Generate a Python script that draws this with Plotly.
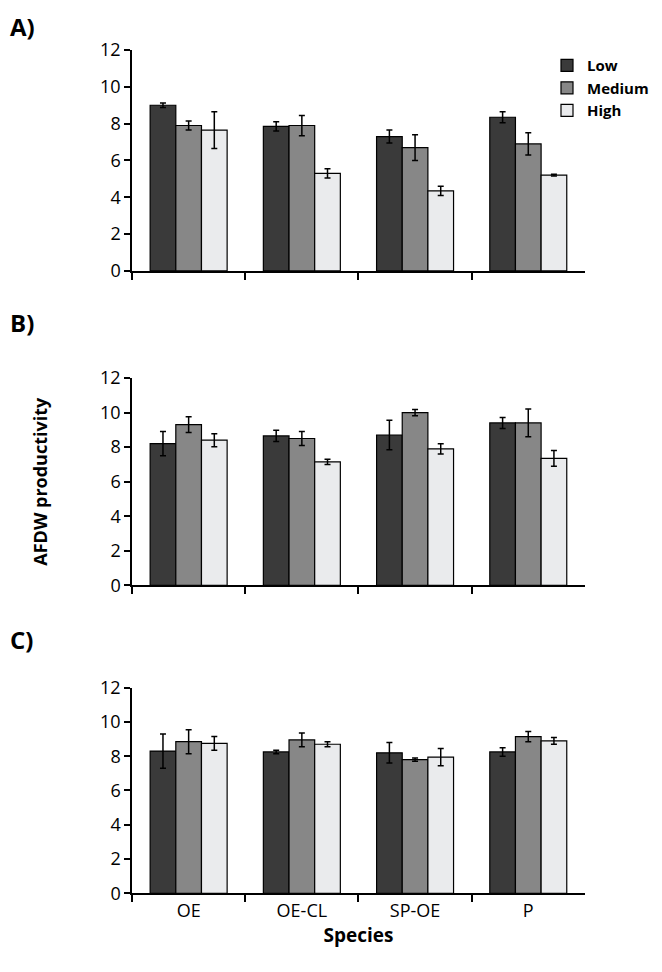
import plotly.graph_objects as go
from plotly.subplots import make_subplots

SPECIES = ["OE", "OE-CL", "SP-OE", "P"]
LEVELS = ["Low", "Medium", "High"]

# panel A
a_low = [9.0, 7.85, 7.3, 8.35]
a_low_err = [0.12, 0.25, 0.35, 0.3]
a_med = [7.9, 7.9, 6.7, 6.9]
a_med_err = [0.25, 0.55, 0.7, 0.6]
a_high = [7.65, 5.3, 4.35, 5.2]
a_high_err = [1.0, 0.25, 0.25, 0.05]

# panel B
b_low = [8.2, 8.65, 8.7, 9.4]
b_low_err = [0.7, 0.32, 0.85, 0.32]
b_med = [9.3, 8.5, 10.0, 9.4]
b_med_err = [0.45, 0.4, 0.18, 0.8]
b_high = [8.4, 7.15, 7.9, 7.35]
b_high_err = [0.38, 0.15, 0.3, 0.45]

# panel C
c_low = [8.3, 8.25, 8.2, 8.25]
c_low_err = [1.0, 0.1, 0.6, 0.25]
c_med = [8.85, 8.95, 7.8, 9.15]
c_med_err = [0.7, 0.4, 0.1, 0.3]
c_high = [8.75, 8.7, 7.95, 8.9]
c_high_err = [0.4, 0.15, 0.5, 0.2]

Y_TICKS = [0, 2, 4, 6, 8, 10, 12]
COLORS = ["#3a3a3a", "#878787", "#eaebed"]
FONT = "Open Sans"

panels = [
    [(a_low, a_low_err), (a_med, a_med_err), (a_high, a_high_err)],
    [(b_low, b_low_err), (b_med, b_med_err), (b_high, b_high_err)],
    [(c_low, c_low_err), (c_med, c_med_err), (c_high, c_high_err)],
]

fig = make_subplots(rows=3, cols=1)

for row, panel in enumerate(panels, start=1):
    for lvl, color, (vals, errs) in zip(LEVELS, COLORS, panel):
        fig.add_trace(
            go.Bar(
                x=SPECIES,
                y=vals,
                name=lvl,
                marker=dict(color=color, line=dict(color="black", width=1.2)),
                error_y=dict(type="data", array=errs, color="black", thickness=1.5, width=3),
                showlegend=(row == 1),
            ),
            row=row,
            col=1,
        )

# panel positions (paper fractions; page body has an 8px margin)
x_dom = [0.192, 0.893]
y_doms = [[0.725, 0.956], [0.396, 0.613], [0.074, 0.289]]

for i, yd in enumerate(y_doms, start=1):
    fig.update_xaxes(
        domain=x_dom,
        automargin=False,
        showline=True,
        linecolor="black",
        linewidth=1.5,
        tickson="boundaries",
        ticks="outside",
        ticklen=7,
        tickcolor="black",
        tickwidth=1.5,
        showticklabels=(i == 3),
        showgrid=False,
        tickfont=dict(family=FONT, size=18, color="black"),
        row=i,
        col=1,
    )
    fig.update_yaxes(
        domain=yd,
        automargin=False,
        range=[0, 12],
        tickvals=Y_TICKS,
        showline=True,
        linecolor="black",
        linewidth=1.5,
        ticks="outside",
        ticklen=6,
        tickcolor="black",
        tickwidth=1.5,
        showgrid=False,
        zeroline=False,
        tickfont=dict(family=FONT, size=18, color="black"),
        row=i,
        col=1,
    )

fig.update_xaxes(
    title=dict(text="<b>Species</b>", font=dict(family=FONT, size=19, color="black"), standoff=8),
    row=3,
    col=1,
)
fig.update_yaxes(
    title=dict(text="<b>AFDW productivity</b>", font=dict(family=FONT, size=18, color="black"), standoff=48),
    row=2,
    col=1,
)

for label, y in [("A)", 1.0), ("B)", 0.690), ("C)", 0.359)]:
    fig.add_annotation(
        text=f"<b>{label}</b>",
        x=0.0,
        y=y,
        xref="paper",
        yref="paper",
        xanchor="left",
        yanchor="top",
        showarrow=False,
        font=dict(family=FONT, size=24, color="black"),
    )

fig.update_layout(
    width=646,
    height=956,
    margin=dict(l=0, r=0, t=0, b=0),
    barmode="group",
    bargap=0.32,
    bargroupgap=0,
    plot_bgcolor="white",
    paper_bgcolor="white",
    legend=dict(
        x=1.0,
        y=0.957,
        xanchor="right",
        yanchor="top",
        font=dict(family=FONT, size=15, color="black", weight="bold"),
        itemwidth=30,
        tracegroupgap=0,
    ),
)

fig.write_html("out.html")
